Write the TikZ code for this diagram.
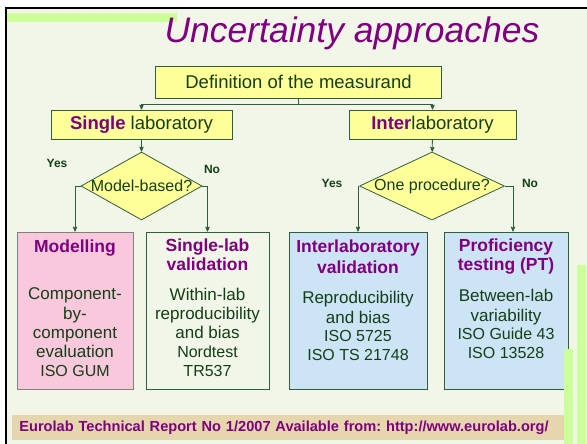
\documentclass[tikz,border=0pt]{standalone}
\usepackage{fontspec}
\setmainfont{Liberation Sans}
\usepackage{tikz}
\usepackage{color}
\usetikzlibrary{arrows, shapes.geometric, positioning}

\definecolor{pageback}{HTML}{F1F6E8}
\definecolor{barlime}{HTML}{CCFF99}
\definecolor{boxyellow}{HTML}{FFFF99}
\definecolor{boxpink}{HTML}{F9C8DC}
\definecolor{boxblue}{HTML}{CDE4F6}
\definecolor{bandtan}{HTML}{E6D6AE}
\definecolor{edgegreen}{HTML}{2F5F3A}
\definecolor{inkgreen}{HTML}{133F16}
\definecolor{headpurple}{HTML}{800080}

\newcommand{\stdfont}{\fontsize{16}{17.5}\selectfont}
\frenchspacing

\begin{document}
\begin{tikzpicture}[>=stealth',x=1pt,y=-1pt,line width=0.8pt,
                    draw=edgegreen,text=inkgreen]
  \tikzstyle{ybox}=[draw=edgegreen,fill=boxyellow,inner sep=0pt,
                    font=\fontsize{18.5}{21}\selectfont]
  \tikzstyle{question}=[ybox,diamond]
  \tikzstyle{qtext}=[text=inkgreen,font=\fontsize{16}{18}\selectfont]
  \tikzstyle{resultbox}=[draw=edgegreen,minimum height=157,inner sep=0pt]
  \tikzstyle{head}=[align=center,inner sep=0pt,text=headpurple,
                    font=\fontsize{17.5}{19}\selectfont\bfseries]
  \tikzstyle{body}=[align=center,inner sep=0pt,
                    font=\fontsize{17}{19.3}\selectfont]
  \tikzstyle{answer}=[inner sep=0pt,font=\fontsize{12}{14}\selectfont\bfseries]

  \useasboundingbox (0,0) rectangle (587,444);
  \fill[white] (0,0) rectangle (587,444);
  \fill[pageback] (7,9) rectangle (587,444);
  \draw[black,line width=2.5pt] (6,444) -- (6,8) -- (587,8);
  \fill[barlime] (7,13) rectangle (177,22);

  \node[text=headpurple,anchor=base,font=\fontsize{35.5}{40}\selectfont\itshape]
       (title) at (352,43) {Uncertainty approaches};

  \node[ybox,minimum width=286,minimum height=32] (def) at (298.5,82)
       {Definition of the measurand};
  \node[ybox,minimum width=181,minimum height=29] (slab) at (141.5,124.5)
       {\textcolor{headpurple}{\bfseries Single} laboratory};
  \node[ybox,minimum width=167,minimum height=29] (ilab) at (432.5,124.5)
       {\textcolor{headpurple}{\bfseries Inter}laboratory};

  \node[question,minimum width=121,minimum height=68,
        label={[qtext]center:Model-based?}] (model) at (141.5,186) {};
  \node[question,minimum width=145,minimum height=68,
        label={[qtext]center:One procedure?}] (proc) at (432,186) {};

  \node[answer] (myes) at (57,163) {Yes};
  \node[answer] (mno)  at (212,169) {No};
  \node[answer] (pyes) at (332,183) {Yes};
  \node[answer] (pno)  at (530,183) {No};

  \node[resultbox,fill=boxpink,draw=gray,minimum width=116] (mod) at (75,310.5) {};
  \node[resultbox,minimum width=123] (slv) at (207.5,310.5) {};
  \node[resultbox,fill=boxblue,minimum width=138] (ilv) at (358,310.5) {};
  \node[resultbox,fill=boxblue,minimum width=124] (pt) at (506,310.5) {};

  % headings and contents of the four boxes
  \node[head] (modhead) [below=8pt of mod.north] {Modelling};
  \node[body] (modtext) [below=56pt of mod.north]
       {Component-\\by-\\component\\evaluation\\[-1pt]{\stdfont ISO GUM}};
  \node[head] (slvhead) [below=7pt of slv.north] {Single-lab\\validation};
  \node[body] (slvtext) [below=56pt of slv.north]
       {Within-lab\\reproducibility\\and bias\\[-1pt]{\stdfont Nordtest}\\{\stdfont TR537}};
  \node[head] (ilvhead) [below=8pt of ilv.north] {Interlaboratory\\[2pt]validation};
  \node[body] (ilvtext) [below=59.5pt of ilv.north]
       {Reproducibility\\and bias\\[-1pt]{\stdfont ISO 5725}\\{\stdfont ISO TS 21748}};
  \node[head] (pthead) [below=7pt of pt.north] {Proficiency\\testing (PT)};
  \node[body] (pttext) [below=57.5pt of pt.north]
       {Between-lab\\variability\\[-1pt]{\stdfont ISO Guide 43}\\{\stdfont ISO 13528}};

  \draw[->] (def.south) -- ++(0,6) -| (slab.north);
  \draw[->] (def.south) -- ++(0,6) -| (ilab.north);
  \draw[->] (slab) -- (model);
  \draw[->] (ilab) -- (proc);
  \draw[->] (model.west) -| (mod.north);
  \draw[->] (model.east) -| (slv.north);
  \draw[->] (proc.west) -| (ilv.north);
  \draw[->] (proc.east) -| ([xshift=7pt]pt.north);

  \node[fill=bandtan,text=headpurple,anchor=west,minimum height=25,
        text width=541,inner xsep=7pt,inner ysep=0pt,align=left,
        font=\fontsize{14.6}{16}\selectfont\bfseries] (ref) at (12,427.5)
       {Eurolab Technical Report No 1/2007 Available from: http://www.eurolab.org/};

  \fill[barlime] (577,265) rectangle (586,444);
  \fill[barlime] (564,349) rectangle (573,444);
\end{tikzpicture}
\end{document}
